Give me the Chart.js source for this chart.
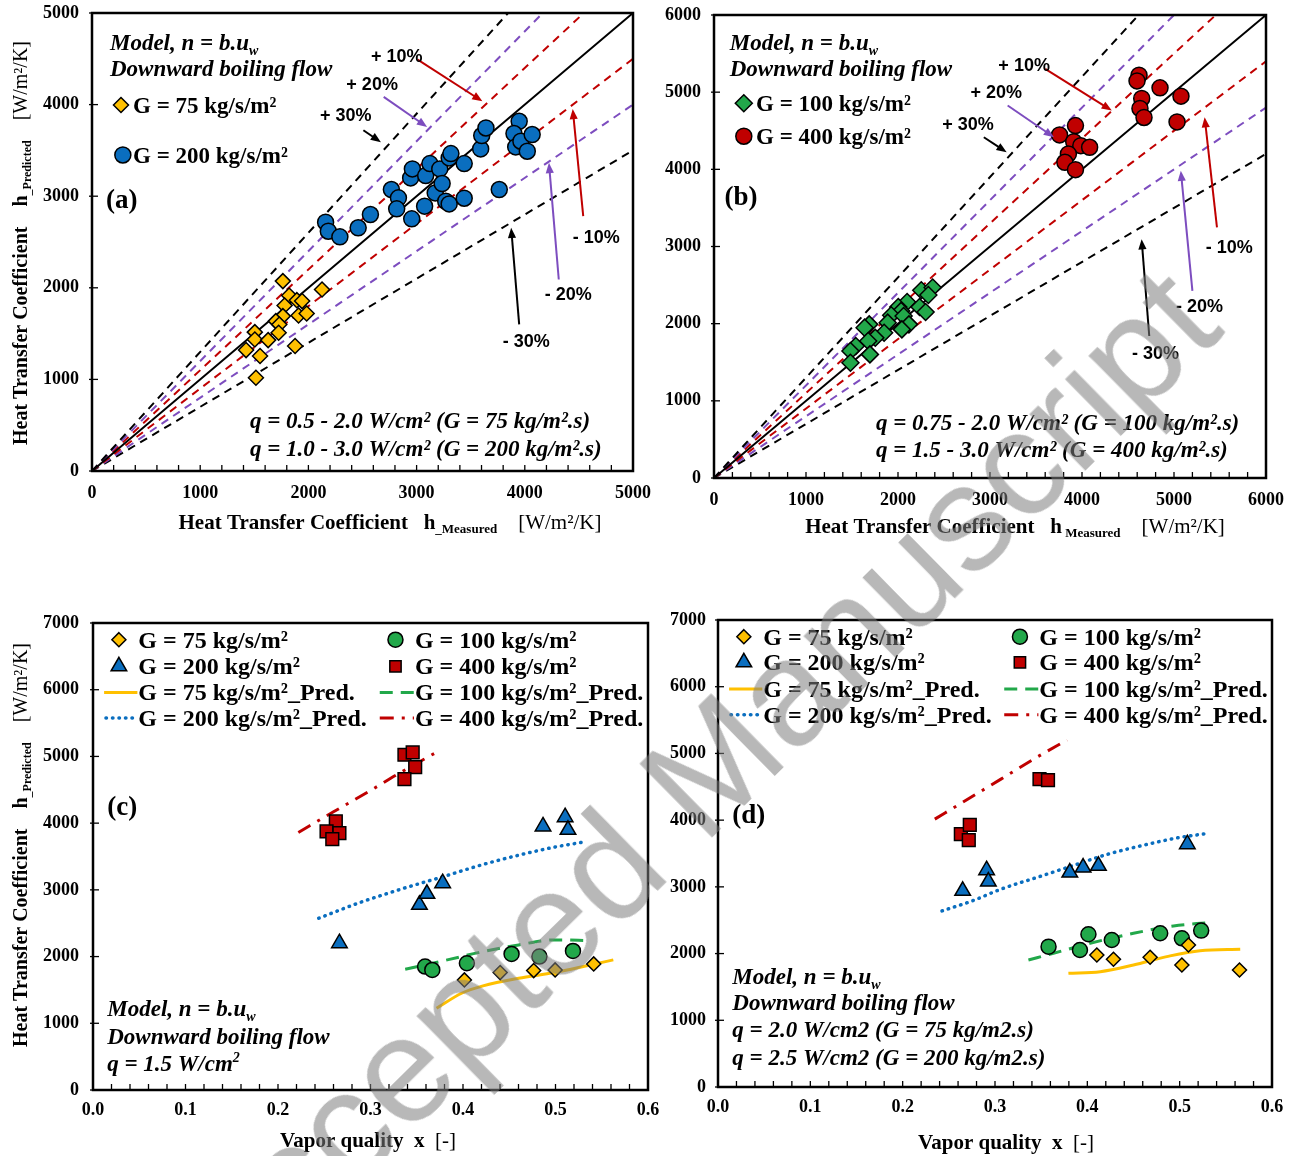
<!DOCTYPE html>
<html lang="en">
  <head>
    <meta charset="UTF-8" />
    <title>Heat transfer coefficient - model comparison</title>
    <script src="https://cdn.jsdelivr.net/npm/chart.js"></script>
    <style>
      body {
        margin: 0;
        background: #fff;
        width: 1294px;
        height: 1156px;
        position: relative;
        overflow: hidden;
      }
      canvas {
        position: absolute;
      }
      #wm {
        position: absolute;
        left: 691px;
        top: 786px;
        transform: translate(-50%, -50%) rotate(-44.5deg);
        font: 150px "Liberation Sans", Arial, sans-serif;
        color: rgba(125, 125, 125, 0.55);
        white-space: nowrap;
        pointer-events: none;
      }
    </style>
  </head>
  <body>
    <canvas id="chartA" width="660" height="540" style="left:0;top:0"></canvas>
    <canvas id="chartB" width="644" height="540" style="left:650px;top:0"></canvas>
    <canvas id="chartC" width="660" height="566" style="left:0;top:590px"></canvas>
    <canvas id="chartD" width="634" height="566" style="left:660px;top:590px"></canvas>
    <div id="wm">Accepted Manuscript</div>

    <script>
      // ---- panel (a): measured vs predicted, G = 75 / 200
      const a75x = [1764, 2126, 1822, 1893, 1942, 1780, 1909, 1984, 1764, 1699, 1731, 1725, 1505, 1505, 1628, 1877, 1424, 1553, 1515];
      const a75y = [2073, 1982, 1916, 1865, 1855, 1807, 1698, 1720, 1691, 1636, 1600, 1509, 1516, 1436, 1429, 1364, 1320, 1255, 1018];
      const a200x = [2159, 2184, 2291, 2460, 2573, 2767, 2832, 2816, 2955, 2945, 2961, 3074, 3084, 3123, 3172, 3214, 3236, 3269, 3301, 3301, 3317, 3440, 3440, 3592, 3602, 3641, 3764, 3948, 3900, 3916, 3964, 4023, 4068];
      const a200y = [2716, 2618, 2556, 2655, 2800, 3073, 2982, 2862, 2753, 3200, 3298, 2891, 3225, 3356, 3036, 3298, 3138, 2945, 2916, 3418, 3465, 3356, 2978, 3516, 3662, 3745, 3073, 3818, 3684, 3538, 3600, 3491, 3673];

      // ---- panel (b): measured vs predicted, G = 100 / 400
      const b100x = [2253, 2377, 2330, 2099, 2003, 2034, 2234, 2300, 1926, 1888, 2061, 2119, 2042, 1849, 1753, 1687, 1637, 1676, 1541, 1483, 1695, 1483];
      const b100y = [2433, 2468, 2372, 2281, 2216, 2165, 2216, 2152, 2108, 2013, 2100, 1991, 1926, 1883, 1818, 1991, 1948, 1775, 1710, 1645, 1602, 1494];
      const b400x = [3756, 3929, 3910, 3987, 4083, 3852, 3814, 3929, 4620, 4598, 4848, 4649, 4630, 4674, 5076, 5033];
      const b400y = [4446, 4567, 4359, 4307, 4286, 4199, 4091, 3996, 5220, 5146, 5056, 4918, 4789, 4672, 4948, 4615];

      // error band lines (+30 .. -30 %)
      const bands = [0.3, 0.2, 0.1, -0.1, -0.2, -0.3];

      // ---- panel (c): q = 1.5 W/cm2
      const c75x = [0.4015, 0.4402, 0.4764, 0.4996, 0.5413];
      const c75y = [1650, 1760, 1790, 1800, 1890];
      const c100x = [0.359, 0.3668, 0.4042, 0.4525, 0.4826, 0.5189];
      const c100y = [1850, 1800, 1900, 2040, 2000, 2085];
      const c200x = [0.2664, 0.3529, 0.361, 0.378, 0.4865, 0.5104, 0.5135];
      const c200y = [2200, 2775, 2940, 3100, 3950, 4090, 3900];
      const c400x = [0.3367, 0.3456, 0.3483, 0.3367, 0.2625, 0.2525, 0.2664, 0.2587];
      const c400y = [5025, 5060, 4840, 4660, 4025, 3875, 3850, 3760];
      const c75px = [0.3714, 0.3985, 0.4216, 0.4602, 0.4988, 0.5375, 0.5625];
      const c75py = [1225, 1450, 1560, 1675, 1760, 1875, 1950];
      const c100px = [0.3375, 0.383, 0.4216, 0.4602, 0.4988, 0.5375];
      const c100py = [1810, 1950, 2075, 2175, 2250, 2240];
      const c200px = [0.244, 0.2865, 0.3328, 0.379, 0.4216, 0.4602, 0.4988, 0.5278];
      const c200py = [2575, 2800, 3010, 3200, 3380, 3520, 3640, 3710];
      const c400px = [0.222, 0.26, 0.3, 0.33, 0.371];
      const c400py = [3860, 4170, 4490, 4740, 5060];

      // ---- panel (d): q = 2.0 / 2.5 W/cm2
      const d75x = [0.4103, 0.4283, 0.468, 0.5024, 0.5095, 0.5648];
      const d75y = [1979, 1914, 1944, 1829, 2129, 1754];
      const d100x = [0.358, 0.392, 0.4012, 0.4265, 0.4789, 0.5024, 0.5233];
      const d100y = [2104, 2054, 2289, 2204, 2304, 2229, 2344];
      const d200x = [0.265, 0.2909, 0.2928, 0.381, 0.3954, 0.412, 0.5083];
      const d200y = [2940, 3250, 3080, 3215, 3290, 3315, 3640];
      const d400x = [0.263, 0.2727, 0.2716, 0.3482, 0.3574];
      const d400y = [3790, 3930, 3700, 4615, 4600];
      const d75px = [0.3795, 0.414, 0.45, 0.486, 0.522, 0.5656];
      const d75py = [1705, 1729, 1829, 1954, 2044, 2064];
      const d100px = [0.3362, 0.3633, 0.403, 0.45, 0.4933, 0.531];
      const d100py = [1904, 2004, 2154, 2304, 2414, 2464];
      const d200px = [0.2426, 0.2754, 0.3064, 0.345, 0.3837, 0.4224, 0.4611, 0.4998, 0.53];
      const d200py = [2640, 2790, 2965, 3140, 3315, 3490, 3625, 3740, 3800];
      const d400px = [0.2348, 0.2677, 0.3064, 0.345, 0.378];
      const d400py = [4015, 4290, 4615, 4940, 5200];

      const SERIF = '"Liberation Serif", "Times New Roman", serif';
      const SANS = '"Liberation Sans", Arial, sans-serif';
      const YEL = "#FFC000", BLUE = "#0A6EBF", GREEN = "#22A84A", RED = "#C00000", PURPLE = "#7D4DBF";

      const pts = (xs, ys) => xs.map((v, i) => ({ x: v, y: ys[i] }));
      const F = (style, size, fam) => style + " " + size + "px " + (fam || SERIF);

      // rich text segments: [text, font, dy]
      const model = [["Model, n = b.u", F("italic bold", 23)], ["w", F("italic bold", 14), 5]];
      const kg = (g, sfx, size) => [["G = " + g + " kg/s/m\u00B2" + (sfx || ""), F("bold", size || 23)]];
      const plain = (t, font) => [[t, font]];

      function drawMarker(ctx, style, x, y, r, fill) {
        ctx.beginPath();
        if (style === "circle") ctx.arc(x, y, r, 0, Math.PI * 2);
        else if (style === "rectRot") {
          ctx.moveTo(x, y - r); ctx.lineTo(x + r, y); ctx.lineTo(x, y + r); ctx.lineTo(x - r, y); ctx.closePath();
        } else if (style === "rect") {
          const s = r * Math.SQRT1_2;
          ctx.rect(x - s, y - s, 2 * s, 2 * s);
        } else if (style === "triangle") {
          ctx.moveTo(x, y - r); ctx.lineTo(x + r * 0.866, y + r / 2); ctx.lineTo(x - r * 0.866, y + r / 2); ctx.closePath();
        }
        ctx.fillStyle = fill; ctx.fill();
        ctx.strokeStyle = "#000"; ctx.lineWidth = 1.5; ctx.setLineDash([]); ctx.stroke();
      }

      function drawRich(ctx, segs, x, y, align) {
        let w = 0;
        segs.forEach((s) => { ctx.font = s[1]; w += ctx.measureText(s[0]).width; });
        let cx = align === "center" ? x - w / 2 : x;
        const size = parseFloat(segs[0][1].match(/(\d+)px/)[1]);
        ctx.textBaseline = "alphabetic";
        ctx.textAlign = "left";
        segs.forEach((s) => {
          ctx.font = s[1];
          ctx.fillText(s[0], cx, y + size * 0.33 + (s[2] || 0));
          cx += ctx.measureText(s[0]).width;
        });
      }

      // frame, inner ticks, texts, arrows, legend samples
      const deco = {
        id: "deco",
        afterDatasetsDraw(chart, args, o) {
          const ctx = chart.ctx, a = chart.chartArea;
          const sx = chart.scales.x, sy = chart.scales.y;
          const P = (x, y) => [sx.getPixelForValue(x), sy.getPixelForValue(y)];
          ctx.save();
          ctx.setLineDash([]);
          ctx.strokeStyle = "#000";
          ctx.lineWidth = 1.3;
          sx.ticks.forEach((t) => {
            const p = sx.getPixelForValue(t.value);
            ctx.beginPath(); ctx.moveTo(p, a.bottom); ctx.lineTo(p, a.bottom - 6); ctx.stroke();
          });
          sy.ticks.forEach((t) => {
            const p = sy.getPixelForValue(t.value);
            ctx.beginPath(); ctx.moveTo(a.left - 3, p); ctx.lineTo(a.left + 6, p); ctx.stroke();
          });
          ctx.lineWidth = 2.5;
          ctx.strokeRect(a.left, a.top, a.right - a.left, a.bottom - a.top);

          (o.arrows || []).forEach((r) => {
            const [x1, y1] = P(r[0], r[1]), [x2, y2] = P(r[2], r[3]);
            const ang = Math.atan2(y2 - y1, x2 - x1);
            ctx.strokeStyle = ctx.fillStyle = r[4];
            ctx.lineWidth = 2;
            ctx.beginPath(); ctx.moveTo(x1, y1);
            ctx.lineTo(x2 - 7 * Math.cos(ang), y2 - 7 * Math.sin(ang)); ctx.stroke();
            ctx.beginPath(); ctx.moveTo(x2, y2);
            ctx.lineTo(x2 - 11 * Math.cos(ang - 0.38), y2 - 11 * Math.sin(ang - 0.38));
            ctx.lineTo(x2 - 11 * Math.cos(ang + 0.38), y2 - 11 * Math.sin(ang + 0.38));
            ctx.closePath(); ctx.fill();
          });

          (o.legend || []).forEach((l) => {
            const ds = chart.data.datasets[l.ds];
            const [x, y] = P(l.x, l.y);
            if (l.x2 !== undefined) {
              const [x2] = P(l.x2, l.y);
              ctx.beginPath();
              ctx.strokeStyle = ds.borderColor;
              ctx.lineWidth = ds.borderWidth;
              ctx.lineCap = ds.borderCapStyle || "butt";
              ctx.setLineDash(ds.borderDash || []);
              ctx.moveTo(x, y); ctx.lineTo(x2, y); ctx.stroke();
              ctx.setLineDash([]);
              ctx.lineCap = "butt";
            } else {
              drawMarker(ctx, ds.pointStyle, x, y, l.r || ds.pointRadius, ds.backgroundColor);
            }
          });

          (o.texts || []).forEach((t) => {
            const [x, y] = P(t.x, t.y);
            ctx.fillStyle = t.color || "#000";
            drawRich(ctx, t.segs, x, y, t.align);
          });

          ctx.fillStyle = "#000";
          (o.titles || []).forEach((t) => {
            ctx.save();
            ctx.translate(t.x, t.y);
            if (t.rot) ctx.rotate(t.rot);
            drawRich(ctx, t.segs, 0, 0, "center");
            ctx.restore();
          });
          ctx.restore();
        },
      };

      function scatterSet(xs, ys, style, r, color) {
        return {
          data: pts(xs, ys), pointStyle: style, pointRadius: r, backgroundColor: color,
          borderColor: "#000", borderWidth: 1.5, showLine: false,
        };
      }
      function lineSet(data, color, width, dash, cap) {
        return {
          data: data, showLine: true, pointRadius: 0, borderColor: color, borderWidth: width,
          borderDash: dash, borderCapStyle: cap || "butt", backgroundColor: color, fill: false,
          tension: 0.4, cubicInterpolationMode: "monotone",
        };
      }

      function axis(min, max, step, size, labelFn, isX, pad) {
        return {
          type: "linear", min: min, max: max,
          afterFit: (s) => {
            if (isX) s.height = size; else s.width = size;
            // keep the plot area exactly where the layout padding puts it
            s.paddingLeft = s.paddingRight = s.paddingTop = s.paddingBottom = 0;
          },
          border: { display: false },
          grid: { display: false, drawTicks: false },
          ticks: {
            stepSize: step, autoSkip: false, maxRotation: 0, padding: pad, color: "#000",
            font: { family: SERIF, weight: "bold", size: 18 },
            callback: labelFn,
          },
        };
      }

      function makeChart(id, datasets, scales, padding, deco_o) {
        return new Chart(document.getElementById(id), {
          type: "scatter",
          data: { datasets: datasets },
          options: {
            responsive: false, animation: false, events: [],
            layout: { padding: padding },
            scales: scales,
            plugins: { legend: { display: false }, tooltip: { enabled: false }, deco: deco_o },
          },
          plugins: [deco],
        });
      }

      function parityLines(maxV) {
        const cols = { 0.1: RED, 0.2: PURPLE, 0.3: "#000" };
        const out = [lineSet([{ x: 0, y: 0 }, { x: maxV, y: maxV }], "#000", 2, [])];
        bands.forEach((e) => {
          out.push(lineSet([{ x: 0, y: 0 }, { x: maxV, y: maxV * (1 + e) }], cols[Math.abs(e)], 2, [8, 6]));
        });
        return out;
      }

      const thousand = (v) => (v % 1000 === 0 ? v : "");
      const tenth = (v, i) => (i % 5 === 0 ? v.toFixed(1) : "");
      const pctFont = F("bold", 18, SANS);
      const qFont = F("italic bold", 23);

      const hTitle = (sub, under) => [
        ["Heat Transfer Coefficient", F("bold", 21)],
        ["   h", F("bold", 21)],
        [(under ? "_" : " ") + sub, F("bold", 13), 4],
        ["    [W/m\u00B2/K]", F("normal", 21)],
      ];
      const hTitleY = [
        ["Heat Transfer Coefficient", F("bold", 20)],
        ["    h", F("bold", 20)],
        ["_Predicted", F("bold", 12), 4],
        ["    [W/m\u00B2/K]", F("normal", 20)],
      ];
      const xTitle = [["Vapor quality  x", F("bold", 21)], ["  [-]", F("normal", 21)]];

      // ---- (a)
      makeChart(
        "chartA",
        [
          scatterSet(a75x, a75y, "rectRot", 7.5, YEL),
          scatterSet(a200x, a200y, "circle", 8, BLUE),
        ].concat(parityLines(5000)),
        {
          x: axis(0, 5000, 200, 69, thousand, true, 12),
          y: axis(0, 5000, 1000, 92, thousand, false, 13),
        },
        { top: 13, right: 27 },
        {
          legend: [{ ds: 0, x: 268, y: 3996 }, { ds: 1, x: 285, y: 3450 }],
          texts: [
            { x: 166, y: 4676, segs: model },
            { x: 166, y: 4400, segs: plain("Downward boiling flow", F("italic bold", 23)) },
            { x: 379, y: 3996, segs: kg(75) },
            { x: 379, y: 3450, segs: kg(200) },
            { x: 129, y: 2969, segs: plain("(a)", F("bold", 27)) },
            { x: 1460, y: 557, segs: plain("q = 0.5 - 2.0 W/cm\u00B2 (G = 75 kg/m\u00B2.s)", qFont) },
            { x: 1460, y: 251, segs: plain("q = 1.0 - 3.0 W/cm\u00B2 (G = 200 kg/m\u00B2.s)", qFont) },
            { x: 2816, y: 4527, align: "center", segs: plain("+ 10%", pctFont) },
            { x: 2589, y: 4229, align: "center", segs: plain("+ 20%", pctFont) },
            { x: 2346, y: 3891, align: "center", segs: plain("+ 30%", pctFont) },
            { x: 4660, y: 2556, align: "center", segs: plain("- 10%", pctFont) },
            { x: 4401, y: 1927, align: "center", segs: plain("- 20%", pctFont) },
            { x: 4013, y: 1418, align: "center", segs: plain("- 30%", pctFont) },
          ],
          arrows: [
            [3010, 4491, 3608, 4036, RED],
            [2696, 4084, 3097, 3756, PURPLE],
            [2508, 3720, 2670, 3589, "#000"],
            [4540, 2782, 4443, 3953, RED],
            [4314, 2091, 4223, 3364, PURPLE],
            [3948, 1600, 3874, 2655, "#000"],
          ],
          titles: [
            { x: 20, y: 243, rot: -Math.PI / 2, segs: hTitleY },
            { x: 390, y: 522, segs: hTitle("Measured", true) },
          ],
        }
      );

      // ---- (b)
      makeChart(
        "chartB",
        [
          scatterSet(b100x, b100y, "rectRot", 8.5, GREEN),
          scatterSet(b400x, b400y, "circle", 8, RED),
        ].concat(parityLines(6000)),
        {
          x: axis(0, 6000, 200, 62, thousand, true, 12),
          y: axis(0, 6000, 1000, 64, thousand, false, 13),
        },
        { top: 15, right: 28 },
        {
          legend: [{ ds: 0, x: 324, y: 4857 }, { ds: 1, x: 324, y: 4429 }],
          texts: [
            { x: 171, y: 5649, segs: model },
            { x: 171, y: 5303, segs: plain("Downward boiling flow", F("italic bold", 23)) },
            { x: 457, y: 4857, segs: kg(100) },
            { x: 457, y: 4429, segs: kg(400) },
            { x: 114, y: 3658, segs: plain("(b)", F("bold", 27)) },
            { x: 1761, y: 725, segs: plain("q = 0.75 - 2.0 W/cm\u00B2 (G = 100 kg/m\u00B2.s)", qFont) },
            { x: 1761, y: 376, segs: plain("q = 1.5 - 3.0 W/cm\u00B2 (G = 400 kg/m\u00B2.s)", qFont) },
            { x: 3371, y: 5346, align: "center", segs: plain("+ 10%", pctFont) },
            { x: 3067, y: 5000, align: "center", segs: plain("+ 20%", pctFont) },
            { x: 2762, y: 4589, align: "center", segs: plain("+ 30%", pctFont) },
            { x: 5600, y: 2987, align: "center", segs: plain("- 10%", pctFont) },
            { x: 5276, y: 2229, align: "center", segs: plain("- 20%", pctFont) },
            { x: 4800, y: 1623, align: "center", segs: plain("- 30%", pctFont) },
          ],
          arrows: [
            [3600, 5303, 4324, 4762, RED],
            [3192, 4827, 3695, 4416, PURPLE],
            [2933, 4416, 3181, 4221, "#000"],
            [5467, 3247, 5333, 4675, RED],
            [5200, 2424, 5074, 3983, PURPLE],
            [4731, 1840, 4648, 3095, "#000"],
          ],
          titles: [{ x: 365, y: 526, segs: hTitle("Measured", false) }],
        }
      );

      function qualitySets(s) {
        return [
          scatterSet(s[0], s[1], "rectRot", 7, YEL),
          scatterSet(s[2], s[3], "triangle", 9, BLUE),
          scatterSet(s[4], s[5], "circle", 7.5, GREEN),
          scatterSet(s[6], s[7], "rect", 9, RED),
          lineSet(pts(s[8], s[9]), YEL, 3, []),
          lineSet(pts(s[10], s[11]), BLUE, 3.5, [0.5, 6], "round"),
          lineSet(pts(s[12], s[13]), GREEN, 3, [13, 8]),
          lineSet(pts(s[14], s[15]), RED, 3, [14, 8, 3, 8]),
        ];
      }

      function qualityLegend(rows) {
        // rows: y values of the four legend rows
        const c1 = 0.028, c2 = 0.327, t1 = 0.049, t2 = 0.348;
        return {
          legend: [
            { ds: 0, x: c1, y: rows[0] },
            { ds: 2, x: c2, y: rows[0] },
            { ds: 1, x: c1, y: rows[1] },
            { ds: 3, x: c2, y: rows[1], r: 8 },
            { ds: 4, x: 0.012, x2: 0.048, y: rows[2] },
            { ds: 6, x: 0.31, x2: 0.347, y: rows[2] },
            { ds: 5, x: 0.014, x2: 0.048, y: rows[3] },
            { ds: 7, x: 0.31, x2: 0.347, y: rows[3] },
          ],
          texts: [
            { x: t1, y: rows[0], segs: kg(75, "", 24) },
            { x: t2, y: rows[0], segs: kg(100, "", 24) },
            { x: t1, y: rows[1], segs: kg(200, "", 24) },
            { x: t2, y: rows[1], segs: kg(400, "", 24) },
            { x: t1, y: rows[2], segs: kg(75, "_Pred.", 24) },
            { x: t2, y: rows[2], segs: kg(100, "_Pred.", 24) },
            { x: t1, y: rows[3], segs: kg(200, "_Pred.", 24) },
            { x: t2, y: rows[3], segs: kg(400, "_Pred.", 24) },
          ],
        };
      }

      // ---- (c)
      const decoC = qualityLegend([6750, 6350, 5960, 5575]);
      decoC.texts.push(
        { x: 0.0154, y: 4250, segs: plain("(c)", F("bold", 27)) },
        { x: 0.0154, y: 1225, segs: model },
        { x: 0.0154, y: 800, segs: plain("Downward boiling flow", F("italic bold", 23)) },
        { x: 0.0154, y: 400, segs: [["q = 1.5 W/cm", F("italic bold", 23)], ["2", F("italic bold", 14), -9]] }
      );
      decoC.titles = [
        { x: 20, y: 255, rot: -Math.PI / 2, segs: hTitleY },
        { x: 368, y: 550, segs: xTitle },
      ];
      makeChart(
        "chartC",
        qualitySets([c75x, c75y, c200x, c200y, c100x, c100y, c400x, c400y,
          c75px, c75py, c200px, c200py, c100px, c100py, c400px, c400py]),
        {
          x: axis(0, 0.6, 0.02, 66, tenth, true, 10),
          y: axis(0, 7000, 1000, 93, (v) => v, false, 14),
        },
        { top: 33, right: 12 },
        decoC
      );

      // ---- (d)
      const decoD = qualityLegend([6750, 6365, 5965, 5580]);
      decoD.texts.push(
        { x: 0.0155, y: 4090, segs: plain("(d)", F("bold", 27)) },
        { x: 0.0155, y: 1665, segs: model },
        { x: 0.0155, y: 1265, segs: plain("Downward boiling flow", F("italic bold", 23)) },
        { x: 0.0155, y: 865, segs: plain("q = 2.0 W/cm2 (G = 75 kg/m2.s)", F("italic bold", 23)) },
        { x: 0.0155, y: 450, segs: plain("q = 2.5 W/cm2 (G = 200 kg/m2.s)", F("italic bold", 23)) }
      );
      decoD.titles = [{ x: 346, y: 552, segs: xTitle }];
      makeChart(
        "chartD",
        qualitySets([d75x, d75y, d200x, d200y, d100x, d100y, d400x, d400y,
          d75px, d75py, d200px, d200py, d100px, d100py, d400px, d400py]),
        {
          x: axis(0, 0.6, 0.02, 69, tenth, true, 10),
          y: axis(0, 7000, 1000, 58, (v) => v, false, 12),
        },
        { top: 30, right: 22 },
        decoD
      );
    </script>
  </body>
</html>
